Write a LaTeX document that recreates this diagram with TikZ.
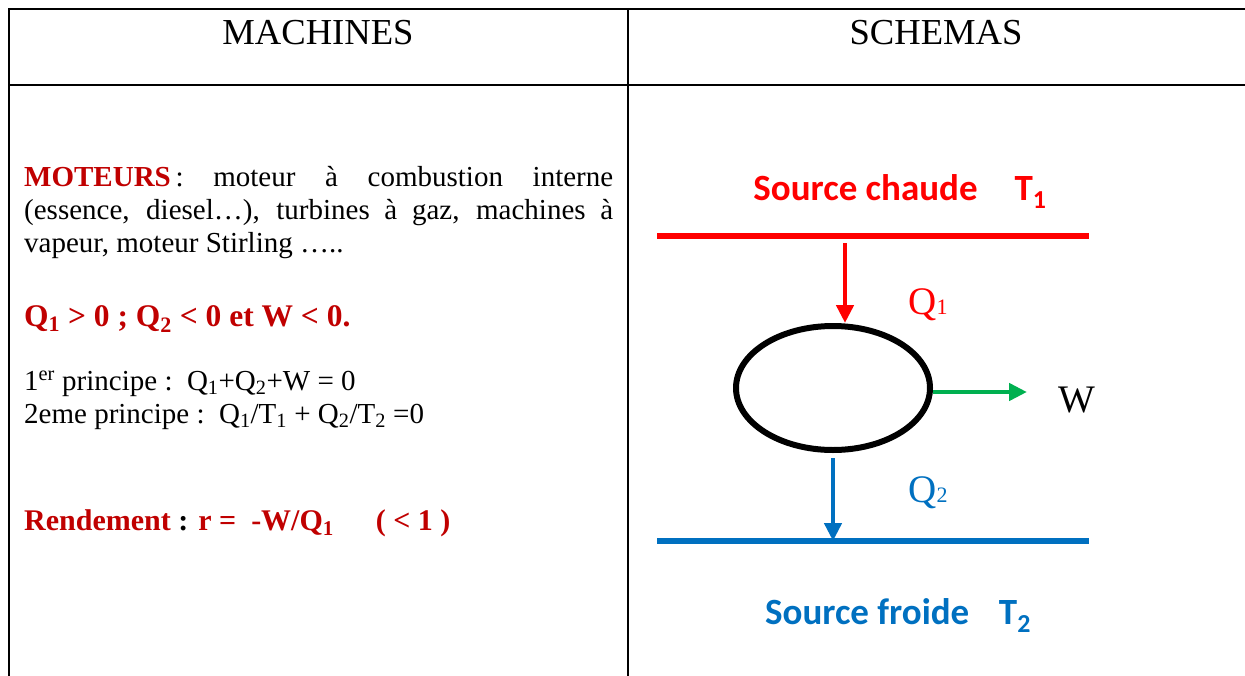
\documentclass[tikz,border=0pt]{standalone}
\usepackage{fontspec}
\setmainfont{Liberation Serif}
\newfontfamily\calibri{Carlito}
\usetikzlibrary{shapes,arrows.meta,positioning}
\definecolor{darkred}{HTML}{C00000}
\definecolor{hotred}{HTML}{FF0000}
\definecolor{coldblue}{HTML}{0070C0}
\definecolor{workgreen}{HTML}{00B050}

\begin{document}
\begin{tikzpicture}[x=1pt,y=-1pt]
			\tikzstyle{Rule}	= [line width=2.8pt, black]
			\tikzstyle{Head}	= [font=\fontsize{36.6}{40}\selectfont, inner sep=0pt, anchor=base]
			\tikzstyle{Body}	= [font=\fontsize{29}{33}\selectfont, inner sep=0pt, anchor=base west]
			\tikzstyle{Loud}	= [Body, font=\fontsize{31.5}{35}\selectfont\bfseries, darkred]
			\tikzstyle{Source}	= [font=\calibri\bfseries\fontsize{37}{40}\selectfont, inner sep=0pt, anchor=base]
			\tikzstyle{Label}	= [font=\fontsize{39}{40}\selectfont, inner sep=0pt, anchor=base]
			\tikzstyle{Bath}	= [line width=5.5pt]
			\tikzstyle{Flux}	= [line width=4.5pt, -{Triangle[length=18pt,width=17pt]}]
			\newcommand{\dig}[1]{{\fontsize{22}{22}\selectfont #1}}

			\useasboundingbox (0,0) rectangle (1245,675);
			\draw [Rule] (9,700) -- (9,9) -- (1270,9);
			\draw [Rule] (9,85) -- (1270,85);
			\draw [Rule] (628,9) -- (628,700);

			\node (machines) at (318,44) [Head] {MACHINES};
			\node (schemas) at (936,44) [Head] {SCHEMAS};

			\node (moteurs) at (24,166) [Body, anchor=north west, text width=589pt, align=justify]
				{\hyphenpenalty=10000\tolerance=9999{\bfseries\color{darkred}MOTEURS}\,: moteur à combustion interne (essence, diesel…), turbines à gaz, machines à vapeur, moteur Stirling …..};
			\node (signes) at (24,326) [Loud] {Q\textsubscript{1} > 0 ; Q\textsubscript{2} < 0 et W < 0.};
			\node (premier) at (24,390) [Body] {1\textsuperscript{er} principe :\ \ Q\textsubscript{1}+Q\textsubscript{2}+W = 0};
			\node (second) at (24,423) [Body] {2eme principe :\ \ Q\textsubscript{1}/T\textsubscript{1} + Q\textsubscript{2}/T\textsubscript{2} =0};
			\node (rendement) at (24,530) [Loud, font=\fontsize{30}{35}\selectfont\bfseries] {Rendement {\color{black}:} r =\ \ -W/Q\textsubscript{1}\hspace{1.4em}( < 1 )};

			\node (chaude) at (900,200) [Source, hotred] {Source chaude\quad T\textsubscript{1}};
			\node (froide) at (898,624) [Source, coldblue] {Source froide\hspace{0.8em}T\textsubscript{2}};
			\coordinate (hotL) at (657,236);
			\coordinate (hotR) at (1089,236);
			\coordinate (coldL) at (657,541);
			\coordinate (coldR) at (1089,541);
			\draw [Bath, hotred] (hotL) -- (hotR);
			\draw [Bath, coldblue] (coldL) -- (coldR);

			\node (cycle) at (833,388) [ellipse, draw, line width=6pt, minimum width=194pt, minimum height=124pt, inner sep=0pt] {};

			\coordinate (q1top) at (845,243);
			\coordinate (q2top) at (833,458);
			\coordinate (wtip) at (1027,392);
			\draw [Flux, hotred] (q1top) -- (q1top |- cycle.north);
			\draw [Flux, coldblue] (q2top) -- (q2top |- coldL);
			\draw [Flux, workgreen] (cycle.east |- wtip) -- (wtip);

			\node (q1) at (928,314) [Label, hotred] {Q\dig{1}};
			\node (q2) at (928,502) [Label, coldblue] {Q\dig{2}};
			\node (w) at (1077,412) [Label] {W};
\end{tikzpicture}
\end{document}
